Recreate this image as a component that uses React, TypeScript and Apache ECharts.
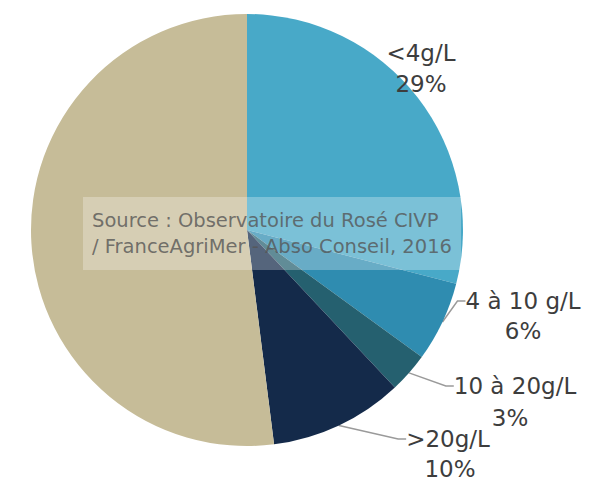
import React, { useEffect, useRef } from 'react';
import * as echarts from 'echarts';

const categories = ['<4g/L', '4 à 10 g/L', '10 à 20g/L', '>20g/L', 'NA'];
const shares = [29, 6, 3, 10, 52];
const sliceColors = ['#48a9c8', '#2f8cb0', '#25606f', '#142a4a', '#c6bc98'];
const showLeader = [false, true, true, true, false];
const sourceLines = ['Source : Observatoire du Rosé CIVP', '/ FranceAgriMer - Abso Conseil, 2016'];

// label centres (layout only): name line and percentage line
const namePos: number[][] = [
  [421, 53],
  [523, 301],
  [515, 386],
  [448, 439],
  [34, 66],
];
const pctPos: number[][] = [
  [421, 84],
  [523, 331],
  [510, 418],
  [450, 469],
  [34, 99],
];

const labelFont = {
  fontFamily: 'DejaVu Sans',
  fontSize: 23,
  color: '#3d3d3d',
  align: 'center',
};

export default function App() {
  const ref = useRef<HTMLDivElement>(null);
  useEffect(() => {
    if (!ref.current) return;
    const chart = echarts.init(ref.current, undefined, { renderer: 'svg' });
    const base = {
      type: 'pie',
      center: [247, 230],
      radius: 216,
      startAngle: 90,
      clockwise: true,
      silent: true,
      emphasis: { disabled: true },
    };
    chart.setOption({
      animation: false,
      backgroundColor: '#ffffff',
      series: [
        {
          ...base,
          name: 'names',
          itemStyle: { borderWidth: 0 },
          data: categories.map((n, i) => ({
            name: n,
            value: shares[i],
            itemStyle: { color: sliceColors[i] },
            labelLine: { show: showLeader[i] },
          })),
          label: { show: true, position: 'outside', formatter: '{b}', ...labelFont },
          labelLine: {
            show: true,
            length: 10,
            length2: 8,
            lineStyle: { color: '#9a9a9a', width: 1.5 },
          },
          labelLayout: (p: any) => {
            const pos = namePos[p.dataIndex];
            return { x: pos[0], y: pos[1], align: 'center', verticalAlign: 'middle' };
          },
        },
        {
          ...base,
          name: 'percent',
          itemStyle: { borderWidth: 0, color: 'rgba(0,0,0,0)' },
          data: categories.map((n, i) => ({ name: n, value: shares[i] })),
          label: { show: true, position: 'outside', formatter: '{c}%', ...labelFont },
          labelLine: { show: false },
          labelLayout: (p: any) => {
            const pos = pctPos[p.dataIndex];
            return { x: pos[0], y: pos[1], align: 'center', verticalAlign: 'middle' };
          },
        },
      ],
      graphic: [
        {
          type: 'rect',
          z: 100,
          shape: { x: 83, y: 197, width: 378, height: 73 },
          style: { fill: 'rgba(255,255,255,0.28)' },
        },
        {
          type: 'text',
          z: 101,
          x: 92,
          y: 220,
          style: {
            text: sourceLines[0],
            fontFamily: 'DejaVu Sans',
            fontSize: 19.5,
            fill: 'rgba(85,85,85,0.8)',
            verticalAlign: 'middle',
          },
        },
        {
          type: 'text',
          z: 101,
          x: 92,
          y: 246,
          style: {
            text: sourceLines[1],
            fontFamily: 'DejaVu Sans',
            fontSize: 19.5,
            fill: 'rgba(85,85,85,0.8)',
            verticalAlign: 'middle',
          },
        },
      ],
    });
    return () => chart.dispose();
  }, []);
  return (
    <div
      ref={ref}
      style={{ position: 'fixed', left: 0, top: 0, width: 590, height: 487 }}
    />
  );
}
